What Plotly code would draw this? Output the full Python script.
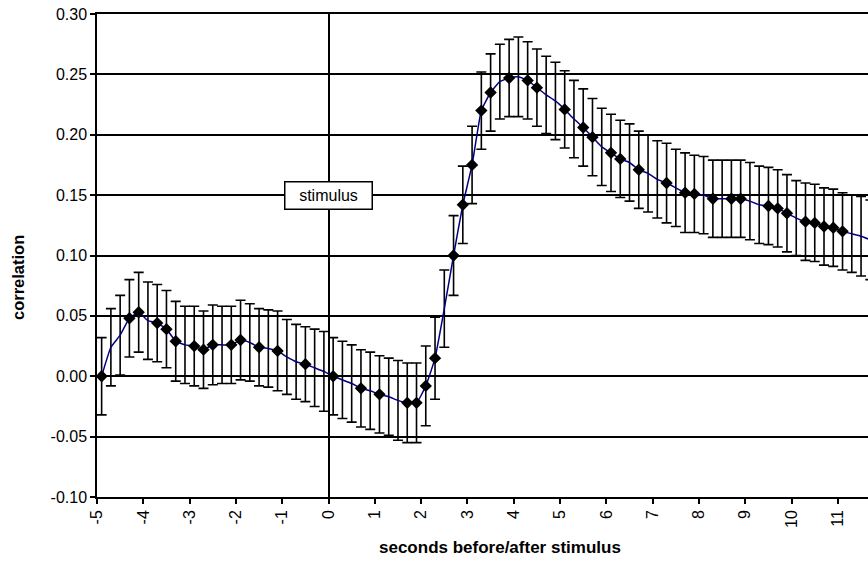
import plotly.graph_objects as go

# time relative to stimulus onset (s)
seconds = [
    -4.9, -4.7, -4.5, -4.3, -4.1, -3.9, -3.7, -3.5, -3.3, -3.1,
    -2.9, -2.7, -2.5, -2.3, -2.1, -1.9, -1.7, -1.5, -1.3, -1.1,
    -0.9, -0.7, -0.5, -0.3, -0.1, 0.1, 0.3, 0.5, 0.7, 0.9,
    1.1, 1.3, 1.5, 1.7, 1.9, 2.1, 2.3, 2.5, 2.7, 2.9,
    3.1, 3.3, 3.5, 3.7, 3.9, 4.1, 4.3, 4.5, 4.7, 4.9,
    5.1, 5.3, 5.5, 5.7, 5.9, 6.1, 6.3, 6.5, 6.7, 6.9,
    7.1, 7.3, 7.5, 7.7, 7.9, 8.1, 8.3, 8.5, 8.7, 8.9,
    9.1, 9.3, 9.5, 9.7, 9.9, 10.1, 10.3, 10.5, 10.7, 10.9,
    11.1, 11.3, 11.5, 11.7,
]

# mean correlation
correlation = [
    0.000, 0.024, 0.034, 0.048, 0.053, 0.046, 0.044, 0.039, 0.029, 0.026,
    0.025, 0.022, 0.026, 0.026, 0.026, 0.030, 0.028, 0.024, 0.023, 0.021,
    0.016, 0.012, 0.010, 0.007, 0.004, 0.000, -0.003, -0.006, -0.010, -0.012,
    -0.015, -0.017, -0.020, -0.022, -0.022, -0.008, 0.015, 0.056, 0.100, 0.142,
    0.175, 0.220, 0.235, 0.244, 0.247, 0.248, 0.245, 0.239, 0.233, 0.228,
    0.221, 0.213, 0.206, 0.198, 0.190, 0.185, 0.180, 0.177, 0.171, 0.168,
    0.163, 0.160, 0.156, 0.152, 0.151, 0.150, 0.147, 0.147, 0.147, 0.147,
    0.145, 0.142, 0.141, 0.139, 0.135, 0.131, 0.128, 0.127, 0.124, 0.123,
    0.120, 0.118, 0.116, 0.113,
]

# symmetric error (+/-)
error = [
    0.032, 0.032, 0.033, 0.032, 0.033, 0.032, 0.032, 0.032, 0.033, 0.032,
    0.033, 0.032, 0.033, 0.032, 0.032, 0.033, 0.032, 0.032, 0.032, 0.033,
    0.031, 0.031, 0.031, 0.032, 0.033, 0.032, 0.032, 0.032, 0.032, 0.032,
    0.032, 0.032, 0.033, 0.033, 0.033, 0.033, 0.034, 0.032, 0.033, 0.032,
    0.032, 0.032, 0.032, 0.031, 0.032, 0.033, 0.032, 0.032, 0.032, 0.032,
    0.032, 0.032, 0.032, 0.032, 0.032, 0.032, 0.032, 0.032, 0.032, 0.032,
    0.032, 0.033, 0.032, 0.033, 0.032, 0.032, 0.032, 0.032, 0.032, 0.032,
    0.032, 0.032, 0.032, 0.032, 0.032, 0.031, 0.032, 0.032, 0.032, 0.032,
    0.032, 0.032, 0.033, 0.033,
]

# 1 = sample drawn with a diamond marker
marked = [
    1, 0, 0, 1, 1, 0, 1, 1, 1, 0,
    1, 1, 1, 0, 1, 1, 0, 1, 0, 1,
    0, 0, 1, 0, 0, 1, 0, 0, 1, 0,
    1, 0, 0, 1, 1, 1, 1, 0, 1, 1,
    1, 1, 1, 0, 1, 0, 1, 1, 0, 0,
    1, 0, 1, 1, 0, 1, 1, 0, 1, 0,
    0, 1, 0, 1, 1, 0, 1, 0, 1, 1,
    0, 0, 1, 1, 1, 0, 1, 1, 1, 1,
    1, 0, 0, 0,
]

x_tick_values = [-5, -4, -3, -2, -1, 0, 1, 2, 3, 4, 5, 6, 7, 8, 9, 10, 11]
x_tick_labels = ["-5", "-4", "-3", "-2", "-1", "0", "1", "2", "3", "4",
                 "5", "6", "7", "8", "9", "10", "11"]
y_tick_values = [-0.10, -0.05, 0.00, 0.05, 0.10, 0.15, 0.20, 0.25, 0.30]
y_tick_labels = ["-0.10", "-0.05", "0.00", "0.05", "0.10", "0.15",
                 "0.20", "0.25", "0.30"]

FONT = "Liberation Sans, Arial, sans-serif"
W, H = 868, 562
ML, MR, MT, MB = 97, 0, 14, 65

mx = [t for t, m in zip(seconds, marked) if m]
my = [v for v, m in zip(correlation, marked) if m]

fig = go.Figure()
fig.add_trace(go.Scatter(
    x=seconds, y=correlation, mode="lines",
    line=dict(color="#000080", width=1.5, shape="spline", smoothing=0.4),
    error_y=dict(type="data", array=error, symmetric=True,
                 color="black", thickness=1.6, width=5),
    hoverinfo="skip", showlegend=False,
))
fig.add_trace(go.Scatter(
    x=mx, y=my, mode="markers",
    marker=dict(symbol="diamond", size=9.5, color="black"),
    showlegend=False,
))

fig.add_annotation(
    x=0, y=0.15, xref="x", yref="y", text="stimulus", showarrow=False,
    font=dict(family=FONT, size=16, color="black"),
    bgcolor="white", bordercolor="black", borderwidth=1.5, borderpad=4,
    width=78, height=18,
)

# axis titles, placed relative to the full chart frame
pw, ph = W - ML - MR, H - MT - MB
fig.add_annotation(
    x=(500 - ML) / pw, y=-(547 - (H - MB)) / ph, xref="paper", yref="paper",
    text="<b>seconds before/after stimulus</b>", showarrow=False,
    font=dict(family=FONT, size=17, color="black"),
    xanchor="center", yanchor="middle",
)
fig.add_annotation(
    x=-(ML - 18) / pw, y=1 - (278 - MT) / ph, xref="paper", yref="paper",
    text="<b>correlation</b>", showarrow=False, textangle=-90,
    font=dict(family=FONT, size=16.5, color="black"),
    xanchor="center", yanchor="middle",
)

fig.update_layout(
    width=W, height=H,
    margin=dict(l=ML, r=MR, t=MT, b=MB),
    paper_bgcolor="white", plot_bgcolor="white",
    font=dict(family=FONT, size=16, color="black"),
    xaxis=dict(
        range=[-5, 11.65],
        tickmode="array", tickvals=x_tick_values, ticktext=x_tick_labels,
        tickangle=-90, ticks="outside", ticklen=5, tickwidth=1.5,
        tickcolor="black", showgrid=False,
        showline=True, linecolor="black", linewidth=1.5, mirror=True,
        zeroline=True, zerolinecolor="black", zerolinewidth=1.5,
        tickfont=dict(size=16),
    ),
    yaxis=dict(
        range=[-0.10, 0.30],
        tickmode="array", tickvals=y_tick_values, ticktext=y_tick_labels,
        ticks="outside", ticklen=5, tickwidth=1.5, tickcolor="black",
        showgrid=True, gridcolor="black", gridwidth=1.5,
        showline=True, linecolor="black", linewidth=1.5,
        zeroline=True, zerolinecolor="black", zerolinewidth=1.5,
        tickfont=dict(size=16),
    ),
)

fig.write_html("out.html")
